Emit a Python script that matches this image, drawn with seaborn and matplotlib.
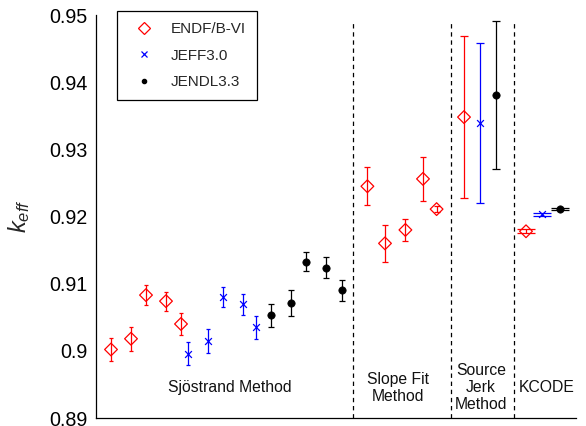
import numpy as np
import pandas as pd
import matplotlib
matplotlib.use("Agg")
import matplotlib.pyplot as plt
from matplotlib.lines import Line2D
import seaborn as sns

# ---- data -------------------------------------------------------------
libraries = ["ENDF/B-VI", "JEFF3.0", "JENDL3.3"]
colors = {"ENDF/B-VI": "#ff0000", "JEFF3.0": "#0000ff", "JENDL3.3": "#000000"}
markers = {"ENDF/B-VI": "D", "JEFF3.0": "x", "JENDL3.3": "o"}

# Sjöstrand method: five cases per library
sj_x_endf = [0.75, 1.75, 2.5, 3.5, 4.25]
sj_k_endf = [0.9002, 0.9018, 0.9083, 0.9074, 0.9040]
sj_e_endf = [0.0017, 0.0018, 0.0015, 0.0014, 0.0017]
sj_x_jeff = [4.6, 5.6, 6.35, 7.35, 8.0]
sj_k_jeff = [0.8996, 0.9015, 0.9080, 0.9069, 0.9035]
sj_e_jeff = [0.0017, 0.0018, 0.0015, 0.0016, 0.0017]
sj_x_jendl = [8.75, 9.75, 10.5, 11.5, 12.3]
sj_k_jendl = [0.9053, 0.9071, 0.9133, 0.9124, 0.9090]
sj_e_jendl = [0.0017, 0.0019, 0.0014, 0.0015, 0.0016]

# Slope fit method (ENDF/B-VI only)
sf_x_endf = [13.57, 14.45, 15.47, 16.35, 17.03]
sf_k_endf = [0.9245, 0.9160, 0.9180, 0.9256, 0.9211]
sf_e_endf = [0.0028, 0.0027, 0.0016, 0.0033, 0.0004]

# Source jerk method
sj2_x = [18.4, 19.2, 20.0]
sj2_k = [0.9348, 0.9339, 0.9381]
sj2_e = [0.0121, 0.0119, 0.0110]

# KCODE
kc_x = [21.5, 22.3, 23.2]
kc_k = [0.9178, 0.9203, 0.9211]
kc_e = [0.0003, 0.0002, 0.0002]

dividers = [12.85, 17.75, 20.9]
group_labels = ["Sjöstrand Method", "Slope Fit\nMethod", "Source\nJerk\nMethod", "KCODE"]
group_label_x = [6.7, 15.1, 19.25, 22.55]
group_label_y = 0.8945

yticks = [0.89, 0.90, 0.91, 0.92, 0.93, 0.94, 0.95]
ytick_labels = ["0.89", "0.9", "0.91", "0.92", "0.93", "0.94", "0.95"]

# ---- tidy table -------------------------------------------------------
rows = []
def add(group, lib, xs, ks, es, cap):
    for x, k, e in zip(xs, ks, es):
        rows.append(dict(group=group, library=lib, x=x, k=k, err=e, cap=cap))

add("Sjöstrand", "ENDF/B-VI", sj_x_endf, sj_k_endf, sj_e_endf, 1.5)
add("Sjöstrand", "JEFF3.0", sj_x_jeff, sj_k_jeff, sj_e_jeff, 1.5)
add("Sjöstrand", "JENDL3.3", sj_x_jendl, sj_k_jendl, sj_e_jendl, 2.0)
add("Slope Fit", "ENDF/B-VI", sf_x_endf, sf_k_endf, sf_e_endf, 2.0)
for lib, x, k, e in zip(libraries, sj2_x, sj2_k, sj2_e):
    add("Source Jerk", lib, [x], [k], [e], 2.7)
for lib, x, k, e in zip(libraries, kc_x, kc_k, kc_e):
    add("KCODE", lib, [x], [k], [e], 6.5)
df = pd.DataFrame(rows)

# ---- style ------------------------------------------------------------
sns.set_style("white")
plt.rcParams["font.family"] = ["Liberation Sans", "DejaVu Sans"]
plt.rcParams["mathtext.fontset"] = "custom"
plt.rcParams["mathtext.it"] = "Liberation Sans:italic"
plt.rcParams["mathtext.rm"] = "Liberation Sans"

fig = plt.figure(figsize=(5.86, 4.26), dpi=100)
ax = fig.add_axes([96 / 586, 1 - 418 / 426, 480 / 586, 403 / 426])

# error bars
for (grp, lib), sub in df.groupby(["group", "library"], sort=False):
    ax.errorbar(sub["x"], sub["k"], yerr=sub["err"], fmt="none",
                ecolor=colors[lib], elinewidth=0.9, capsize=sub["cap"].iloc[0],
                capthick=0.9, zorder=2)

# markers
sizes = {"ENDF/B-VI": 42, "JEFF3.0": 24, "JENDL3.3": 28}
for lib in libraries:
    sub = df[df["library"] == lib]
    if lib == "ENDF/B-VI":
        sns.scatterplot(data=sub, x="x", y="k", marker="D", s=sizes[lib],
                        facecolor="none", edgecolor=colors[lib], linewidth=0.9,
                        ax=ax, zorder=3, legend=False)
    elif lib == "JEFF3.0":
        sns.scatterplot(data=sub, x="x", y="k", marker="x", s=sizes[lib],
                        color=colors[lib], linewidth=0.9, ax=ax, zorder=3,
                        legend=False)
    else:
        sns.scatterplot(data=sub, x="x", y="k", marker="o", s=sizes[lib],
                        color=colors[lib], edgecolor=colors[lib], linewidth=0.5,
                        ax=ax, zorder=3, legend=False)

# method separators
ax.vlines(dividers, 0.89, 0.949, colors="black", linewidth=0.9,
          linestyles=(0, (3.5, 3)), zorder=1)

for label, x in zip(group_labels, group_label_x):
    ax.text(x, group_label_y, label, ha="center", va="center",
            fontsize=11.3, linespacing=1.15, color="#111111")

# axes
ax.set_xlim(0, 24)
ax.set_ylim(0.89, 0.95)
ax.set_yticks(yticks)
ax.set_yticklabels(ytick_labels)
ax.set_xticks([])
ax.set_xlabel("")
ax.set_ylabel("$k_{eff}$", fontsize=17)
ax.yaxis.set_label_coords(-0.133, 0.5)
ax.tick_params(axis="y", direction="in", length=4, width=0.8, labelsize=14.2,
               pad=6, colors="black")
for side in ["top", "right"]:
    ax.spines[side].set_visible(False)
for side in ["left", "bottom"]:
    ax.spines[side].set_color("black")
    ax.spines[side].set_linewidth(0.9)

# legend
handles = [
    Line2D([], [], linestyle="none", marker="D", markersize=6.5,
           markerfacecolor="none", markeredgecolor=colors["ENDF/B-VI"],
           markeredgewidth=0.9),
    Line2D([], [], linestyle="none", marker="x", markersize=4,
           color=colors["JEFF3.0"], markeredgewidth=0.9),
    Line2D([], [], linestyle="none", marker="o", markersize=3,
           color=colors["JENDL3.3"]),
]
leg = fig.legend(handles, libraries, loc="upper left",
                 bbox_to_anchor=(117 / 586, 1 - 11 / 426), borderaxespad=0,
                 fontsize=11, frameon=True, fancybox=False, edgecolor="black",
                 framealpha=1, borderpad=0.75, labelspacing=0.8,
                 handlelength=2.0, handletextpad=0.75)
leg.get_frame().set_linewidth(0.9)

fig.savefig("out.png", dpi=100)
